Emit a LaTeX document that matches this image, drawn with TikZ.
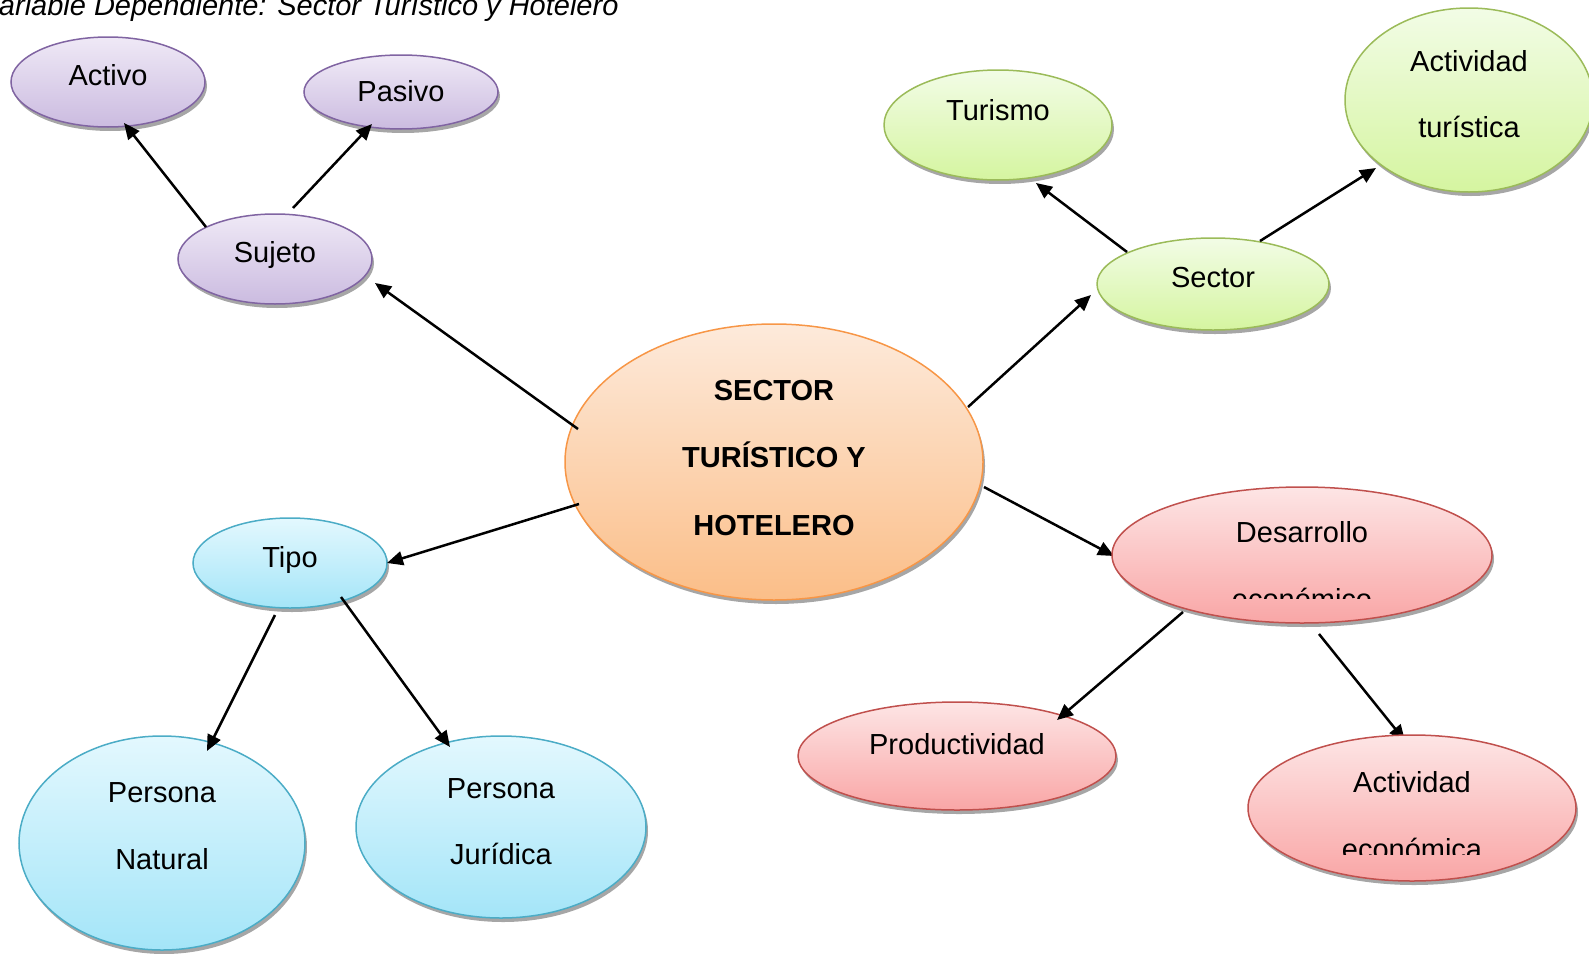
\documentclass[tikz,border=0pt]{standalone}
\usepackage{fontspec}
\setmainfont{Liberation Sans}
\usetikzlibrary{arrows.meta,shadows,shapes.geometric}
\definecolor{purT}{HTML}{EFE9F6}
\definecolor{purB}{HTML}{CBBBE0}
\definecolor{purL}{HTML}{8064A2}
\definecolor{greT}{HTML}{F2FCE6}
\definecolor{greB}{HTML}{D5F5A0}
\definecolor{greL}{HTML}{9BBB59}
\definecolor{oraT}{HTML}{FDEADB}
\definecolor{oraB}{HTML}{FBBE88}
\definecolor{oraL}{HTML}{F79646}
\definecolor{cyaT}{HTML}{E3F8FE}
\definecolor{cyaB}{HTML}{A4E5F8}
\definecolor{cyaL}{HTML}{4BACC6}
\definecolor{redT}{HTML}{FDE5E5}
\definecolor{redB}{HTML}{F9A6A6}
\definecolor{redL}{HTML}{C0504D}
\definecolor{shad}{HTML}{A6A6A6}
\begin{document}
\begin{tikzpicture}[x=1pt,y=-1pt,
  bub/.style={ellipse, inner sep=0pt, line width=1.5pt,
    drop shadow={shadow xshift=2pt, shadow yshift=-4pt, fill=shad, opacity=1}},
  purp/.style={bub, draw=purL, top color=purT, bottom color=purB},
  gree/.style={bub, draw=greL, top color=greT, bottom color=greB},
  oran/.style={bub, draw=oraL, top color=oraT, bottom color=oraB},
  cyan/.style={bub, draw=cyaL, top color=cyaT, bottom color=cyaB},
  redd/.style={bub, draw=redL, top color=redT, bottom color=redB},
  lbl/.style={anchor=base, inner sep=0pt, font=\fontsize{29}{29}\selectfont},
  blbl/.style={lbl, font=\fontsize{29}{29}\selectfont\bfseries},
  arr/.style={line width=2.5pt, -{Triangle[length=16pt,width=14pt]}}]
\useasboundingbox (0,0) rectangle (1589,953);

% connector end points
\coordinate (a1s) at (578,429);  \coordinate (a1e) at (375,283);
\coordinate (a2s) at (206,227);  \coordinate (a2e) at (124,123);
\coordinate (a3s) at (293,208);  \coordinate (a3e) at (372,124);
\coordinate (a4s) at (968,407);  \coordinate (a4e) at (1091,295);
\coordinate (a5s) at (1127,252); \coordinate (a5e) at (1036,183);
\coordinate (a6s) at (1260,241); \coordinate (a6e) at (1376,168);
\coordinate (a7s) at (579,504);  \coordinate (a7e) at (387,563);
\coordinate (a8s) at (275,615);  \coordinate (a8e) at (207,751);
\coordinate (a9s) at (341,597);  \coordinate (a9e) at (450,747);
\coordinate (a10s) at (984,487); \coordinate (a10e) at (1114,556);
\coordinate (a11s) at (1183,612);\coordinate (a11e) at (1057,720);
\coordinate (a12s) at (1319,634);\coordinate (a12e) at (1405,741);

% connectors lying under the bubbles
\draw[arr] (a10s) -- (a10e);
\draw[arr] (a12s) -- (a12e);

% title
\node[anchor=base west, inner sep=0pt, font=\fontsize{29}{29}\selectfont\itshape] (title) at (-19.5,15) {Variable Dependiente: Sector Turístico y Hotelero};

% bubbles
\node[purp, minimum width=194pt, minimum height=90pt] (activo) at (108,82) {};
\node[purp, minimum width=194pt, minimum height=74pt] (pasivo) at (401,92) {};
\node[purp, minimum width=194pt, minimum height=90pt] (sujeto) at (275,259) {};
\node[gree, minimum width=228pt, minimum height=110pt] (turismo) at (998,125) {};
\node[gree, minimum width=248pt, minimum height=184pt] (actur) at (1469,100) {};
\node[gree, minimum width=232pt, minimum height=92pt] (sector) at (1213,284) {};
\node[oran, minimum width=418pt, minimum height=276pt] (central) at (774,462) {};
\node[cyan, minimum width=194pt, minimum height=90pt] (tipo) at (290,563) {};
\node[cyan, minimum width=286pt, minimum height=214pt] (pnat) at (162,843) {};
\node[cyan, minimum width=290pt, minimum height=182pt] (pjur) at (501,827) {};
\node[redd, minimum width=380pt, minimum height=136pt] (desarrollo) at (1302,555) {};
\node[redd, minimum width=318pt, minimum height=108pt] (prod) at (957,756) {};
\node[redd, minimum width=328pt, minimum height=146pt] (acteco) at (1412,808) {};

% texts
\node[lbl] (activo-t) at (108,85) {Activo};
\node[lbl] (pasivo-t) at (401,101) {Pasivo};
\node[lbl] (sujeto-t) at (275,262) {Sujeto};
\node[lbl] (turismo-t) at (998,120) {Turismo};
\node[lbl] (actur-t1) at (1469,71) {Actividad};
\node[lbl] (actur-t2) at (1469,137) {turística};
\node[lbl] (sector-t) at (1213,287) {Sector};
\node[blbl] (central-t1) at (774,400) {SECTOR};
\node[blbl] (central-t2) at (774,467) {TURÍSTICO Y};
\node[blbl] (central-t3) at (774,535) {HOTELERO};
\node[lbl] (tipo-t) at (290,567) {Tipo};
\node[lbl] (pnat-t1) at (162,802) {Persona};
\node[lbl] (pnat-t2) at (162,869) {Natural};
\node[lbl] (pjur-t1) at (501,798) {Persona};
\node[lbl] (pjur-t2) at (501,864) {Jurídica};
\node[lbl] (desarrollo-t1) at (1302,542) {Desarrollo};
\begin{scope}
  \clip (1100,470) rectangle (1500,598);
  \node[lbl] (desarrollo-t2) at (1302,609) {económico};
\end{scope}
\node[lbl] (prod-t) at (957,754) {Productividad};
\node[lbl] (acteco-t1) at (1412,792) {Actividad};
\begin{scope}
  \clip (1240,740) rectangle (1580,854);
  \node[lbl] (acteco-t2) at (1412,859) {económica};
\end{scope}

% connectors over the bubbles
\draw[arr] (a1s) -- (a1e);
\draw[arr] (a2s) -- (a2e);
\draw[arr] (a3s) -- (a3e);
\draw[arr] (a4s) -- (a4e);
\draw[arr] (a5s) -- (a5e);
\draw[arr] (a6s) -- (a6e);
\draw[arr] (a7s) -- (a7e);
\draw[arr] (a8s) -- (a8e);
\draw[arr] (a9s) -- (a9e);
\draw[arr] (a11s) -- (a11e);
\end{tikzpicture}
\end{document}
